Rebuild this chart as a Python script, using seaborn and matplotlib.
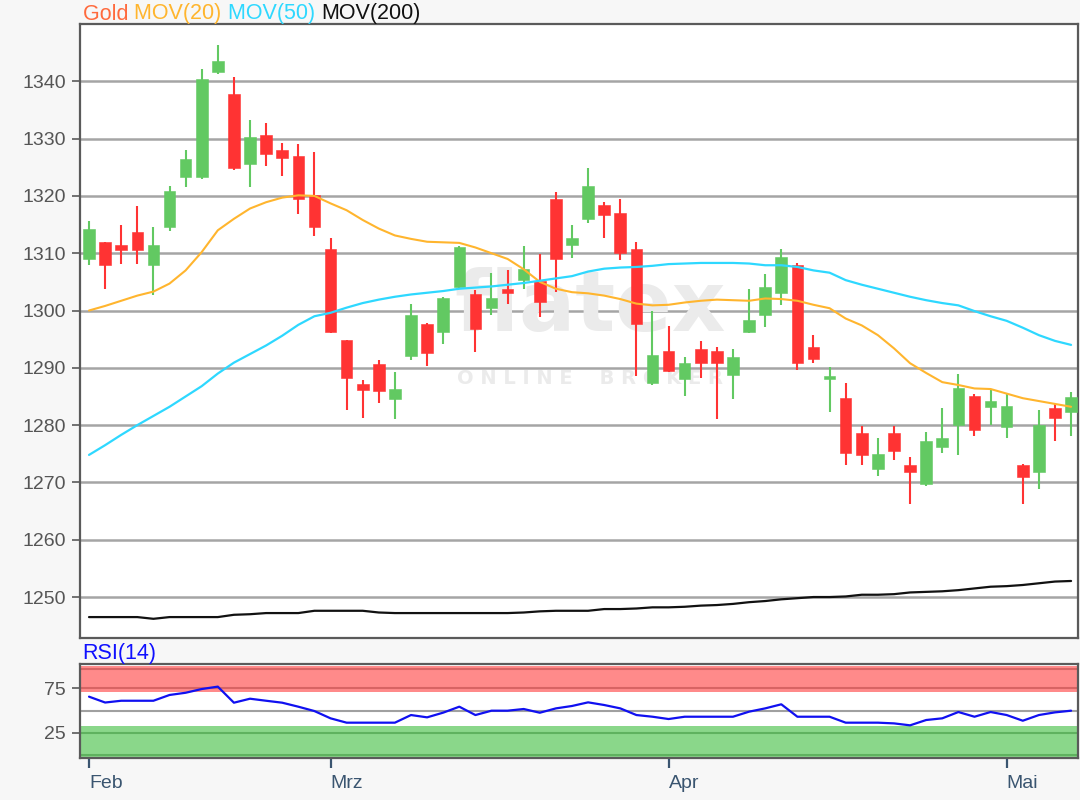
import numpy as np
import pandas as pd
import matplotlib
matplotlib.use("Agg")
import matplotlib.pyplot as plt
import seaborn as sns

# ---------------- data ----------------
opens = [1309.0, 1311.9, 1311.5, 1313.7, 1307.9, 1314.5, 1323.3, 1323.3, 1341.6, 1337.7,
         1325.6, 1330.6, 1328.0, 1326.9, 1320.2, 1310.8, 1294.8, 1287.1, 1290.6, 1284.5,
         1292.1, 1297.6, 1296.3, 1304.1, 1302.8, 1300.5, 1303.8, 1305.4, 1305.2, 1319.5,
         1311.4, 1315.9, 1318.5, 1317.1, 1310.8, 1287.3, 1293.0, 1288.0, 1293.3, 1293.0,
         1288.7, 1296.3, 1299.2, 1303.0, 1308.0, 1293.6, 1288.0, 1284.7, 1278.7, 1272.3,
         1278.7, 1273.1, 1269.8, 1276.1, 1280.0, 1285.0, 1283.1, 1279.6, 1273.1, 1271.9,
         1283.0, 1282.3]
highs = [1315.6, 1312.0, 1315.0, 1318.2, 1314.6, 1321.7, 1328.0, 1342.2, 1346.4, 1340.8,
         1333.2, 1332.8, 1329.3, 1329.0, 1327.6, 1312.6, 1294.9, 1287.8, 1291.3, 1289.2,
         1301.1, 1297.9, 1302.4, 1311.2, 1303.5, 1306.6, 1307.0, 1311.2, 1309.8, 1320.6,
         1315.0, 1324.8, 1318.9, 1319.5, 1311.9, 1299.9, 1297.3, 1291.9, 1294.7, 1293.6,
         1293.3, 1303.8, 1306.3, 1310.8, 1308.3, 1295.8, 1290.2, 1287.4, 1279.8, 1277.7,
         1279.8, 1274.5, 1278.8, 1283.0, 1288.9, 1285.4, 1286.1, 1285.4, 1273.2, 1282.6,
         1283.7, 1285.7]
lows = [1308.0, 1303.7, 1308.2, 1308.2, 1302.7, 1313.8, 1321.5, 1322.9, 1341.3, 1324.5,
        1321.5, 1325.3, 1323.5, 1316.9, 1313.0, 1296.0, 1282.7, 1281.3, 1283.8, 1281.0,
        1291.4, 1290.3, 1294.2, 1303.8, 1292.8, 1299.2, 1301.1, 1303.7, 1298.8, 1303.3,
        1309.2, 1315.2, 1312.7, 1308.9, 1288.6, 1287.0, 1289.3, 1285.1, 1288.2, 1281.0,
        1284.5, 1296.0, 1297.1, 1300.9, 1289.7, 1290.8, 1282.3, 1273.0, 1273.0, 1271.2,
        1274.0, 1266.3, 1269.4, 1275.1, 1274.7, 1278.1, 1280.0, 1277.8, 1266.3, 1268.8,
        1277.2, 1278.1]
closes = [1314.2, 1307.9, 1310.6, 1310.6, 1311.5, 1320.9, 1326.5, 1340.4, 1343.6, 1324.9,
          1330.3, 1327.4, 1326.7, 1319.4, 1314.5, 1296.3, 1288.2, 1286.2, 1285.9, 1286.3,
          1299.3, 1292.5, 1302.2, 1311.1, 1296.7, 1302.1, 1303.0, 1307.3, 1301.5, 1309.0,
          1312.6, 1321.7, 1316.6, 1310.1, 1297.7, 1292.3, 1289.4, 1290.9, 1290.8, 1290.8,
          1291.9, 1298.3, 1304.1, 1309.4, 1290.9, 1291.5, 1288.5, 1275.1, 1274.7, 1274.9,
          1275.4, 1271.9, 1277.3, 1277.7, 1286.4, 1279.2, 1284.2, 1283.3, 1270.9, 1280.0,
          1281.3, 1284.9]
mov20 = [1300.0, 1300.8, 1301.7, 1302.6, 1303.3, 1304.7, 1307.0, 1310.2, 1314.0, 1316.0,
         1317.8, 1318.9, 1319.7, 1320.1, 1320.0, 1318.7, 1317.5, 1315.8, 1314.3, 1313.1,
         1312.5, 1312.0, 1311.9, 1311.8, 1311.0, 1310.0, 1309.0, 1307.2, 1305.0, 1303.8,
         1303.2, 1303.0, 1302.6, 1302.0, 1301.2, 1300.9, 1301.0, 1301.4, 1301.7, 1301.9,
         1301.8, 1301.7, 1302.1, 1302.0, 1301.7, 1301.0, 1300.4, 1298.6, 1297.4, 1295.7,
         1293.4, 1290.8, 1289.1, 1287.5, 1287.0, 1286.4, 1286.3, 1285.5, 1284.7, 1284.2,
         1283.7, 1283.2]
mov50 = [1274.8, 1276.5, 1278.3, 1280.0, 1281.6, 1283.2, 1285.0, 1286.8, 1289.0, 1290.9,
         1292.4, 1293.9, 1295.6, 1297.5, 1299.0, 1299.6, 1300.5, 1301.3, 1301.9, 1302.4,
         1302.8, 1303.1, 1303.4, 1303.8, 1304.0, 1304.2, 1304.5, 1304.8, 1305.2, 1305.6,
         1306.0, 1306.8, 1307.3, 1307.5, 1307.6, 1307.8, 1308.1, 1308.2, 1308.3, 1308.3,
         1308.3, 1308.2, 1307.9, 1307.9, 1307.6, 1307.0, 1306.6, 1305.3, 1304.5, 1303.8,
         1303.1, 1302.4, 1301.8, 1301.3, 1300.9, 1299.9, 1299.0, 1298.2, 1297.0, 1295.7,
         1294.7, 1294.0]
mov200 = [1246.5, 1246.5, 1246.5, 1246.5, 1246.2, 1246.5, 1246.5, 1246.5, 1246.5, 1246.9,
          1247.0, 1247.2, 1247.2, 1247.2, 1247.6, 1247.6, 1247.6, 1247.6, 1247.3, 1247.2,
          1247.2, 1247.2, 1247.2, 1247.2, 1247.2, 1247.2, 1247.2, 1247.3, 1247.5, 1247.6,
          1247.6, 1247.6, 1247.9, 1247.9, 1248.0, 1248.2, 1248.2, 1248.3, 1248.5, 1248.6,
          1248.8, 1249.1, 1249.3, 1249.6, 1249.8, 1250.0, 1250.0, 1250.1, 1250.4, 1250.4,
          1250.5, 1250.8, 1250.9, 1251.0, 1251.2, 1251.5, 1251.8, 1251.9, 1252.1, 1252.4,
          1252.7, 1252.8]
rsi = [65.6, 59.0, 61.0, 61.0, 61.0, 67.5, 70.0, 74.2, 76.9, 58.8,
       63.3, 61.0, 58.8, 54.3, 49.4, 41.2, 36.3, 36.3, 36.3, 36.3,
       44.9, 42.3, 47.6, 54.3, 44.9, 49.8, 49.8, 51.7, 47.5, 52.4,
       55.1, 59.2, 56.2, 52.4, 44.9, 43.0, 40.4, 43.0, 43.0, 43.0,
       43.0, 48.7, 52.4, 57.0, 43.0, 43.0, 43.0, 36.3, 36.3, 36.3,
       35.5, 33.3, 39.3, 41.2, 48.3, 43.0, 48.3, 44.9, 38.5, 44.9,
       47.9, 49.8]
month_labels = ["Feb", "Mrz", "Apr", "Mai"]
month_pos = [0, 15, 36, 57]
price_ticks = [1250, 1260, 1270, 1280, 1290, 1300, 1310, 1320, 1330, 1340]
rsi_ticks = [25, 75]

# ---------------- styling ----------------
sns.set_theme(style="white")
plt.rcParams["font.family"] = ["Liberation Sans", "DejaVu Sans"]

GREEN = "#62C962"
RED = "#FF3333"
GRID = "#A5A5A5"
SPINE = "#5A5A5A"
TICKC = "#555555"

df = pd.DataFrame({"i": np.arange(len(opens)), "open": opens, "high": highs,
                   "low": lows, "close": closes, "mov20": mov20, "mov50": mov50,
                   "mov200": mov200, "rsi": rsi})
df["up"] = df["close"] >= df["open"]
df["color"] = np.where(df["up"], GREEN, RED)
df["bottom"] = df[["open", "close"]].min(axis=1)
df["height"] = (df["close"] - df["open"]).abs().clip(lower=0.35)

fig = plt.figure(figsize=(10.8, 8.0), dpi=100, facecolor="#F7F7F7")
ax = fig.add_axes([80 / 1080, 1 - 638 / 800, 998 / 1080, 614 / 800])
ax2 = fig.add_axes([80 / 1080, 1 - 758 / 800, 998 / 1080, 94 / 800])

xlim = (-0.56, 61.43)

# ---- main price panel ----
ax.set_facecolor("white")
for t in price_ticks:
    ax.axhline(t, color=GRID, lw=1.8, zorder=0)

ax.text(31.1, 1300.5, "flatex", ha="center", va="center", fontsize=60,
        fontweight="bold", color="#EBEBEB", zorder=0.5, family="DejaVu Sans")
ax.text(31.1, 1288.2, "O N L I N E    B R O K E R", ha="center", va="center",
        fontsize=14, fontweight="bold", color="#EBEBEB", zorder=0.5, family="DejaVu Sans")

ax.vlines(df["i"], df["low"], df["high"], colors=df["color"], lw=1.5, zorder=2)
ax.bar(df["i"], df["height"], bottom=df["bottom"], width=0.72, color=df["color"],
       edgecolor=df["color"], linewidth=0.4, zorder=3)

sns.lineplot(data=df, x="i", y="mov20", ax=ax, color="#FFB52E", lw=1.5, zorder=4)
sns.lineplot(data=df, x="i", y="mov50", ax=ax, color="#2ED8FF", lw=1.6, zorder=4)
sns.lineplot(data=df, x="i", y="mov200", ax=ax, color="#111111", lw=1.6, zorder=4)

ax.set_xlim(*xlim)
ax.set_ylim(1242.85, 1350.0)
ax.set_yticks(price_ticks)
ax.set_yticklabels([str(t) for t in price_ticks])
ax.set_xticks([])
ax.set_xlabel("")
ax.set_ylabel("")
ax.tick_params(axis="y", left=True, length=6, width=1.2, color=SPINE,
               labelsize=14, labelcolor=TICKC, pad=4)
for s in ax.spines.values():
    s.set_color(SPINE)
    s.set_linewidth(1.6)

# title line above the panel
items = [("Gold ", "#FF6A3D"), ("MOV(20) ", "#FFB52E"), ("MOV(50) ", "#2ED8FF"),
         ("MOV(200)", "#111111")]
x0 = 83 / 1080
renderer = fig.canvas.get_renderer()
for txt, col in items:
    t = fig.text(x0, 1 - 14 / 800, txt, color=col, fontsize=15.5, va="center", ha="left")
    bb = t.get_window_extent(renderer=renderer)
    x0 += bb.width / fig.bbox.width

# ---- RSI panel ----
ax2.set_facecolor("white")
ax2.axhspan(71.2, 100.5, color="#FF8A8A", lw=0, zorder=0)
ax2.axhspan(-4, 32.5, color="#8AD78A", lw=0, zorder=0)
ax2.axhline(75, color="#D86464", lw=1.5, zorder=0.5)
ax2.axhline(97, color="#D86464", lw=1.5, zorder=0.5)
ax2.axhline(25, color="#5FB25F", lw=1.5, zorder=0.5)
ax2.axhline(0, color="#5FB25F", lw=1.5, zorder=0.5)
ax2.axhline(50, color="#A0A0A0", lw=1.5, zorder=0.5)
sns.lineplot(data=df, x="i", y="rsi", ax=ax2, color="#1010F0", lw=1.6, zorder=3)
ax2.set_xlim(*xlim)
ax2.set_ylim(-3.5, 102.4)
ax2.set_yticks(rsi_ticks)
ax2.set_yticklabels([str(t) for t in rsi_ticks])
ax2.set_xticks(month_pos)
ax2.set_xticklabels(month_labels, ha="left")
ax2.set_xlabel("")
ax2.set_ylabel("")
ax2.tick_params(axis="y", left=True, length=6, width=1.2, color=SPINE,
                labelsize=14, labelcolor=TICKC, pad=4)
ax2.tick_params(axis="x", bottom=True, length=7, width=1.6, color="#3A5570",
                labelsize=14, labelcolor="#3A5570", pad=5)
for lab in ax2.get_xticklabels():
    lab.set_x(lab.get_position()[0] - 0.2)
for s in ax2.spines.values():
    s.set_color(SPINE)
    s.set_linewidth(1.6)

fig.text(82 / 1080, 1 - 654 / 800, "RSI(14)", color="#1010FF", fontsize=15.5,
         va="center", ha="left")

fig.savefig("out.png", dpi=100, facecolor=fig.get_facecolor())
